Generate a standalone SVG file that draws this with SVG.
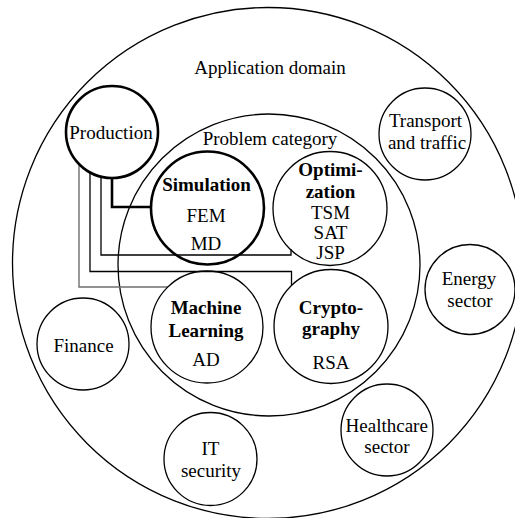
<svg xmlns="http://www.w3.org/2000/svg" width="515" height="518" viewBox="0 0 515 518">
<style>
  .c { fill: none; stroke: #000; stroke-width: 1.3; }
  .thick { fill: none; stroke: #000; stroke-width: 2.6; }
  text { font-family: "Liberation Serif", "Times New Roman", serif; font-size: 19px; fill: #000; text-anchor: middle; }
  .b { font-weight: bold; }
  .ln { fill: none; stroke: #000; stroke-width: 1.3; }
  .lg { fill: none; stroke: #6e6e6e; stroke-width: 1.4; }
  .lt { fill: none; stroke: #000; stroke-width: 2.6; }
</style>
<rect width="515" height="518" fill="#fff"/>
<g id="application-domain">
  <circle class="c" cx="268" cy="263" r="255.5"/>
  <text x="270" y="74">Application domain</text>
</g>
<g id="problem-category">
  <circle class="c" cx="269" cy="265" r="151"/>
  <text x="270" y="145">Problem category</text>
</g>
<g id="connectors">
  <polyline class="lg" points="79,164 79,287 168,287"/>
  <polyline class="ln" points="90,172.5 90,271.5 291.5,271.5 291.5,285"/>
  <polyline class="ln" points="101,176.5 101,255 291,255 291,249"/>
  <polyline class="lt" points="112,178 112,207 151,207"/>
</g>
<g id="production">
  <circle class="thick" cx="112" cy="132" r="46"/>
  <text x="111" y="139">Production</text>
</g>
<g id="simulation">
  <circle class="thick" cx="207.5" cy="208" r="56.5"/>
  <text class="b" x="206.5" y="190.5">Simulation</text>
  <text x="206" y="221.5">FEM</text>
  <text x="206" y="250">MD</text>
</g>
<g id="optimization">
  <circle class="c" cx="330" cy="208.5" r="57"/>
  <text class="b" x="330.5" y="175.5">Optimi-</text>
  <text class="b" x="330.5" y="197.5">zation</text>
  <text x="330.5" y="219">TSM</text>
  <text x="330.5" y="239">SAT</text>
  <text x="330.5" y="258.5">JSP</text>
</g>
<g id="machine-learning">
  <circle class="c" cx="207" cy="327" r="56"/>
  <text class="b" x="206" y="313.5">Machine</text>
  <text class="b" x="206" y="336.5">Learning</text>
  <text x="206" y="366">AD</text>
</g>
<g id="cryptography">
  <circle class="c" cx="331" cy="326.5" r="57"/>
  <text class="b" x="331" y="313.5">Crypto-</text>
  <text class="b" x="331" y="335">graphy</text>
  <text x="331" y="369">RSA</text>
</g>
<g id="transport">
  <circle class="c" cx="425" cy="134" r="46"/>
  <text x="425.5" y="126.5">Transport</text>
  <text x="427" y="149">and traffic</text>
</g>
<g id="energy">
  <circle class="c" cx="470" cy="289.5" r="45"/>
  <text x="469" y="285">Energy</text>
  <text x="470" y="307">sector</text>
</g>
<g id="finance">
  <circle class="c" cx="83" cy="344" r="46"/>
  <text x="83.5" y="351.5">Finance</text>
</g>
<g id="it-security">
  <circle class="c" cx="210.5" cy="459" r="46.5"/>
  <text x="210.5" y="455">IT</text>
  <text x="211" y="476.5">security</text>
</g>
<g id="healthcare">
  <circle class="c" cx="387" cy="430" r="46"/>
  <text x="386.7" y="431.5">Healthcare</text>
  <text x="387" y="452.5">sector</text>
</g>
</svg>
